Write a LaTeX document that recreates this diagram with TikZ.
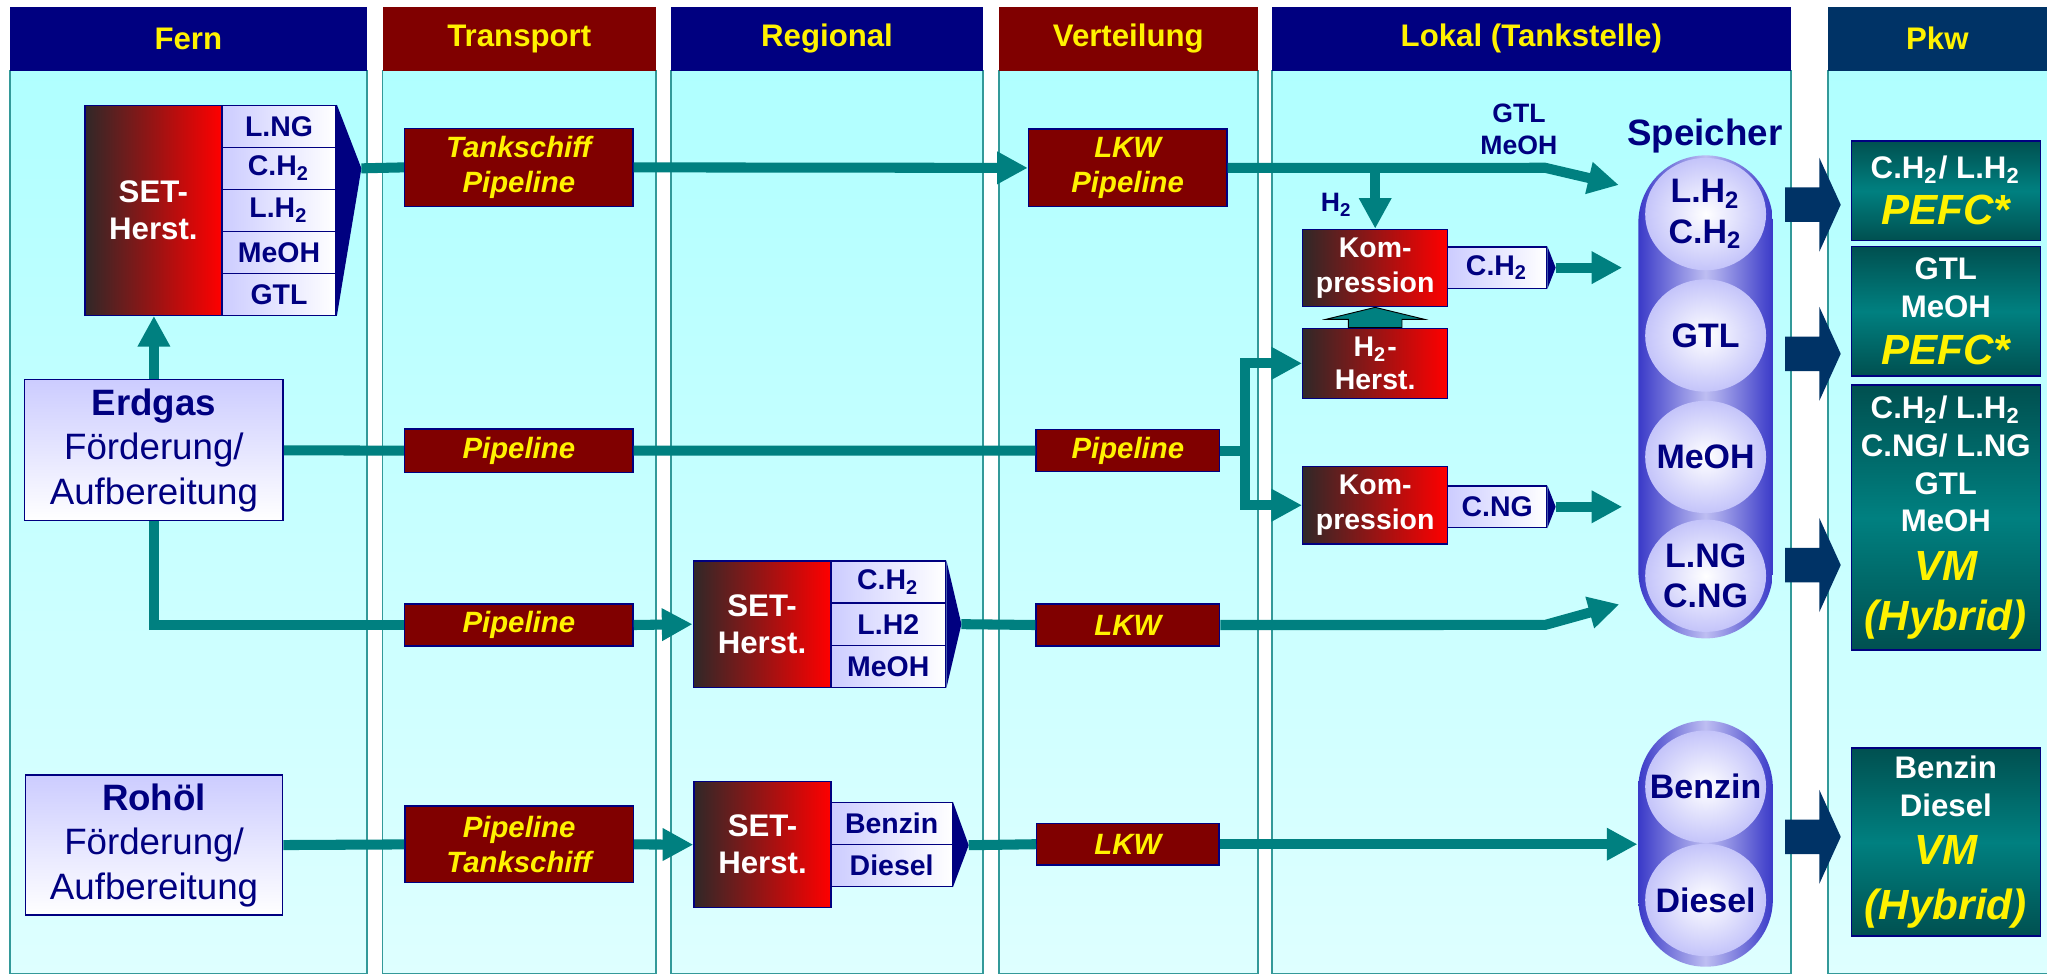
\documentclass[tikz,border=0pt]{standalone}
\usepackage{fontspec}
\setmainfont{Liberation Sans}
\usetikzlibrary{arrows.meta,calc}

\definecolor{headnavy}{RGB}{0,0,128}
\definecolor{headred}{RGB}{128,0,0}
\definecolor{headpkw}{RGB}{0,51,102}
\definecolor{coltop}{RGB}{176,255,255}
\definecolor{colbot}{RGB}{222,255,255}
\definecolor{colline}{RGB}{51,153,153}
\definecolor{flowteal}{RGB}{0,128,128}
\definecolor{redleft}{RGB}{48,40,40}
\definecolor{lavender}{RGB}{204,204,255}
\definecolor{pilledge}{RGB}{58,58,200}
\definecolor{pillmid}{RGB}{190,190,242}
\definecolor{ballout}{RGB}{196,196,250}
\definecolor{pkwdark}{RGB}{0,80,80}
\definecolor{pkwmid}{RGB}{0,128,128}

\newcommand{\pkwbig}[1]{{\color{yellow}\fontsize{9.2}{11}\selectfont\bfseries\itshape #1}}

\begin{document}
\begin{tikzpicture}[x=0.1mm, y=-0.1mm]
    \tikzstyle{col_body} = [top color=coltop, bottom color=colbot, draw=colline, line width=0.15mm]
    \tikzstyle{col_head} = [minimum height=4.9mm, inner sep=0, text=yellow, font=\fontsize{6.8}{8}\selectfont\bfseries]
    \tikzstyle{red_box} = [draw=headnavy, line width=0.3pt, left color=redleft, right color=red, text=white, align=center, inner sep=0, font=\fontsize{6.8}{8.1}\selectfont\bfseries]
    \tikzstyle{prod_box} = [draw=headnavy, line width=0.3pt, left color=lavender, right color=white, text=headnavy, inner sep=0, font=\fontsize{6.2}{7}\selectfont\bfseries]
    \tikzstyle{trans_box} = [draw=headnavy, line width=0.3pt, fill=headred, text=yellow, align=center, inner sep=0, minimum width=17.5mm, font=\fontsize{6.4}{7.6}\selectfont\bfseries\itshape]
    \tikzstyle{source_box} = [draw=headnavy, line width=0.3pt, top color=lavender, bottom color=white, text=headnavy, align=center, inner sep=0, font=\fontsize{8}{9.7}\selectfont]
    \tikzstyle{pkw_box} = [draw=headnavy, line width=0.3pt, top color=pkwdark, bottom color=pkwdark, middle color=pkwmid, text=white, align=center, inner sep=0, minimum width=14.5mm, font=\fontsize{6.8}{8.2}\selectfont\bfseries]
    \tikzstyle{pill_style} = [rounded corners=5.15mm, minimum width=10.3mm, left color=pilledge, right color=pilledge, middle color=pillmid, inner sep=0]
    \tikzstyle{ball_shade} = [inner color=white, outer color=ballout]
    \tikzstyle{ball_text} = [text=headnavy, align=center, inner sep=0, font=\fontsize{7.4}{8.8}\selectfont\bfseries]
    \tikzstyle{label_style} = [text=headnavy, align=center, inner sep=0, font=\fontsize{5.8}{6.8}\selectfont\bfseries]
    \tikzstyle{flow_line} = [draw=flowteal, line width=0.77mm]
    \tikzstyle{flow_arrow} = [flow_line, -{Triangle[length=2.35mm, width=2.35mm]}]

    \useasboundingbox (0,0) rectangle (1568,746);
    \fill[white] (0,0) rectangle (1568,746);

    % columns
    \shadedraw[col_body] (7.5,54) rectangle (281,746);
    \shadedraw[col_body] (293,54) rectangle (502.6,746);
    \shadedraw[col_body] (514,54) rectangle (753,746);
    \shadedraw[col_body] (765,54) rectangle (963.6,746);
    \shadedraw[col_body] (974,54) rectangle (1372,746);
    \shadedraw[col_body] (1400,54) rectangle (1580,746);

    \node[col_head, fill=headnavy, minimum width=27.35mm] (h_fern) at (144.25,29.5) {Fern};
    \node[col_head, fill=headred, minimum width=20.96mm] (h_trans) at (397.8,29.5) {Transport};
    \node[col_head, fill=headnavy, minimum width=23.9mm] (h_reg) at (633.5,29.5) {Regional};
    \node[col_head, fill=headred, minimum width=19.86mm] (h_vert) at (864.3,29.5) {Verteilung};
    \node[col_head, fill=headnavy, minimum width=39.8mm] (h_lokal) at (1173,29.5) {Lokal (Tankstelle)};
    \node[col_head, fill=headpkw, minimum width=16.8mm] (h_pkw) at (1484,29.5) {Pkw};

    % Fern
    \node[red_box, minimum width=10.5mm, minimum height=16.08mm] (set1) at (117.5,161.1) {SET-\\Herst.};
    \node[prod_box, minimum width=8.75mm, minimum height=3.216mm] (p1a) at (213.75,96.8) {L.NG};
    \node[prod_box, minimum width=8.75mm, minimum height=3.216mm] (p1b) at (213.75,128.94) {C.H\textsubscript{2}};
    \node[prod_box, minimum width=8.75mm, minimum height=3.216mm] (p1c) at (213.75,161.1) {L.H\textsubscript{2}};
    \node[prod_box, minimum width=8.75mm, minimum height=3.216mm] (p1d) at (213.75,193.26) {MeOH};
    \node[prod_box, minimum width=8.75mm, minimum height=3.216mm] (p1e) at (213.75,225.4) {GTL};
    \coordinate (set1_tip) at ($(p1b.east)+(18.8,0)$);
    \fill[headnavy] (p1a.north east) -- (set1_tip) -- (p1e.south east) -- cycle;

    \node[source_box, minimum width=19.8mm, minimum height=10.8mm] (erdgas) at (117.9,344.9) {\textbf{Erdgas}\\Förderung/\\Aufbereitung};
    \node[source_box, minimum width=19.7mm, minimum height=10.73mm] (rohoel) at (118,647.3) {\textbf{Rohöl}\\Förderung/\\Aufbereitung};

    % Transport
    \node[trans_box, minimum height=5.97mm] (t1) at (397.4,128.2) {Tankschiff\\Pipeline};
    \node[trans_box, minimum height=3.32mm] (t2) at (397.4,345.2) {Pipeline};
    \node[trans_box, minimum height=3.21mm] (t3) at (397.4,478.75) {Pipeline};
    \node[trans_box, minimum height=5.87mm] (t4) at (397.6,646.8) {Pipeline\\Tankschiff};

    % Regional
    \node[red_box, minimum width=10.55mm, minimum height=9.68mm] (set2) at (583.75,478.1) {SET-\\Herst.};
    \node[prod_box, minimum width=8.79mm, minimum height=3.227mm] (p2a) at (680.45,445.83) {C.H\textsubscript{2}};
    \node[prod_box, minimum width=8.79mm, minimum height=3.227mm] (p2b) at (680.45,478.1) {L.H2};
    \node[prod_box, minimum width=8.79mm, minimum height=3.227mm] (p2c) at (680.45,510.37) {MeOH};
    \coordinate (set2_tip) at ($(p2b.east)+(11.5,0)$);
    \fill[headnavy] (p2a.north east) -- (set2_tip) -- (p2c.south east) -- cycle;

    \node[red_box, minimum width=10.5mm, minimum height=9.66mm] (set3) at (584.1,647) {SET-\\Herst.};
    \node[prod_box, minimum width=9.28mm, minimum height=3.22mm] (p3a) at (683,630.8) {Benzin};
    \node[prod_box, minimum width=9.28mm, minimum height=3.22mm] (p3b) at (683,663) {Diesel};
    \coordinate (set3_tip) at ($(p3a.south east)+(12.1,0)$);
    \fill[headnavy] (p3a.north east) -- (set3_tip) -- (p3b.south east) -- cycle;

    % Verteilung
    \node[trans_box, minimum width=15.2mm, minimum height=5.95mm] (v1) at (863.8,128.6) {LKW\\Pipeline};
    \node[trans_box, minimum width=14.06mm, minimum height=3.24mm] (v2) at (863.9,345.1) {Pipeline};
    \node[trans_box, minimum width=14.06mm, minimum height=3.21mm] (v3) at (863.9,478.75) {LKW};
    \node[trans_box, minimum width=13.96mm, minimum height=3.19mm] (v4) at (863.9,646.65) {LKW};

    % Lokal
    \node[red_box, minimum width=11.1mm, minimum height=5.92mm, font=\fontsize{6.2}{7.6}\selectfont\bfseries] (komp1) at (1053.4,205.3) {Kom-\\pression};
    \node[prod_box, minimum width=7.58mm, minimum height=3.19mm] (ch2) at (1146.8,205) {C.H\textsubscript{2}};
    \coordinate (ch2_tip) at ($(ch2.east)+(6.4,0)$);
    \fill[headnavy] (ch2.north east) -- (ch2_tip) -- (ch2.south east) -- cycle;
    \node[red_box, minimum width=11.1mm, minimum height=5.36mm, font=\fontsize{6.2}{7.2}\selectfont\bfseries] (h2herst) at (1053.4,278.3) {H\textsubscript{2}-\\Herst.};
    \node[red_box, minimum width=11.1mm, minimum height=5.93mm, font=\fontsize{6.2}{7.6}\selectfont\bfseries] (komp2) at (1053.4,387) {Kom-\\pression};
    \node[prod_box, minimum width=7.58mm, minimum height=3.19mm] (cng) at (1146.8,388.2) {C.NG};
    \coordinate (cng_tip) at ($(cng.east)+(6.4,0)$);
    \fill[headnavy] (cng.north east) -- (cng_tip) -- (cng.south east) -- cycle;

    \node[label_style] (lbl_gtl) at (1163.5,99) {GTL\\MeOH};
    \node[label_style] (lbl_h2) at (1024,157) {H\textsubscript{2}};

    \node[label_style, font=\fontsize{8}{9}\selectfont\bfseries] (speicher) at (1306,104) {Speicher};
    \node[pill_style, minimum height=37mm] (sp1) at (1306.5,304) {};
    \shade[ball_shade] (1306.5,164) ellipse [x radius=4.63mm, y radius=4.3mm];
    \shade[ball_shade] (1306.5,257) ellipse [x radius=4.63mm, y radius=4.3mm];
    \shade[ball_shade] (1306.5,350) ellipse [x radius=4.63mm, y radius=4.3mm];
    \shade[ball_shade] (1306.5,441) ellipse [x radius=4.63mm, y radius=4.3mm];
    \node[ball_text] (b_h2) at (1306.5,164) {L.H\textsubscript{2}\\C.H\textsubscript{2}};
    \node[ball_text] (b_gtl) at (1306.5,257) {GTL};
    \node[ball_text] (b_meoh) at (1306.5,350) {MeOH};
    \node[ball_text] (b_ng) at (1306.5,441) {L.NG\\C.NG};

    \node[pill_style, minimum height=18.85mm] (sp2) at (1306.5,646.25) {};
    \shade[ball_shade] (1306.5,602.6) ellipse [x radius=4.63mm, y radius=4.3mm];
    \shade[ball_shade] (1306.5,689.4) ellipse [x radius=4.63mm, y radius=4.3mm];
    \node[ball_text] (b_benzin) at (1306.5,602.6) {Benzin};
    \node[ball_text] (b_diesel) at (1306.5,689.4) {Diesel};

    % Pkw
    \node[pkw_box, minimum height=7.6mm] (pkw1) at (1490.5,146) {C.H\textsubscript{2}/ L.H\textsubscript{2}\\[1.8pt]\pkwbig{PEFC*}};
    \node[pkw_box, minimum height=9.9mm] (pkw2) at (1490.5,238.5) {GTL\\MeOH\\[2.1pt]\pkwbig{PEFC*}};
    \node[pkw_box, minimum height=20.3mm] (pkw3) at (1490.5,396.5) {C.H\textsubscript{2}/ L.H\textsubscript{2}\\C.NG/ L.NG\\GTL\\MeOH\\[2.4pt]\pkwbig{VM}\\[2.7pt]\pkwbig{(Hybrid)}};
    \node[pkw_box, minimum height=14.4mm] (pkw4) at (1490.5,645) {Benzin\\Diesel\\[2.2pt]\pkwbig{VM}\\[3.8pt]\pkwbig{(Hybrid)}};

    \foreach \yc in {156.8,271,432.8,641}
        \fill[headpkw] (1367.3,\yc-13.2) -- (1393.6,\yc-13.2) -- (1393.6,\yc-36) -- (1410,\yc) -- (1393.6,\yc+36) -- (1393.6,\yc+13.2) -- (1367.3,\yc+13.2) -- cycle;

    % flows
    \coordinate (bend1) at (1183.5,128.5);
    \coordinate (sp1_in1) at (1240,141.7);
    \coordinate (bend2) at (1183.5,478.7);
    \coordinate (sp1_in4) at (1240.4,462.9);

    \draw[flow_line] (set1_tip) -- (t1.west);
    \draw[flow_arrow] (t1.east) -- (v1.west);
    \draw[flow_arrow] (v1.east) -- (bend1) -- (sp1_in1);
    \draw[flow_arrow] (v1.east -| komp1.north) -- (komp1.north);
    \draw[flow_arrow] (ch2_tip) -- ++(51,0);
    \filldraw[fill=flowteal, draw=black, line width=0.2pt] ($(h2herst.north)+(-20.5,0)$) -- ++(0,-6.4) -- ++(-17.2,0) -- (komp1.south) -- ($(h2herst.north)+(37.7,-6.4)$) -- ++(-17.2,0) -- ++(0,6.4) -- cycle;

    \draw[flow_arrow] (erdgas.north) -- (erdgas.north |- set1.south);
    \draw[flow_line] (erdgas.east) -- (t2.west);
    \draw[flow_line] (t2.east) -- (v2.west);
    \draw[flow_arrow] (v2.east) -- ++(18.7,0) |- (h2herst.west);
    \draw[flow_arrow] (v2.east) -- ++(18.7,0) |- (komp2.west);
    \draw[flow_arrow] (cng_tip) -- ++(51,0);

    \draw[flow_line] (erdgas.south) |- (t3.west);
    \draw[flow_arrow] (t3.east) -- (set2.west);
    \draw[flow_line] (set2_tip) -- (v3.west);
    \draw[flow_arrow] (v3.east) -- (bend2) -- (sp1_in4);

    \draw[flow_line] (rohoel.east) -- (t4.west);
    \draw[flow_arrow] (t4.east) -- (set3.west);
    \draw[flow_line] (set3_tip) -- (v4.west);
    \draw[flow_arrow] (v4.east) -- (v4.east -| sp2.west);
\end{tikzpicture}
\end{document}
